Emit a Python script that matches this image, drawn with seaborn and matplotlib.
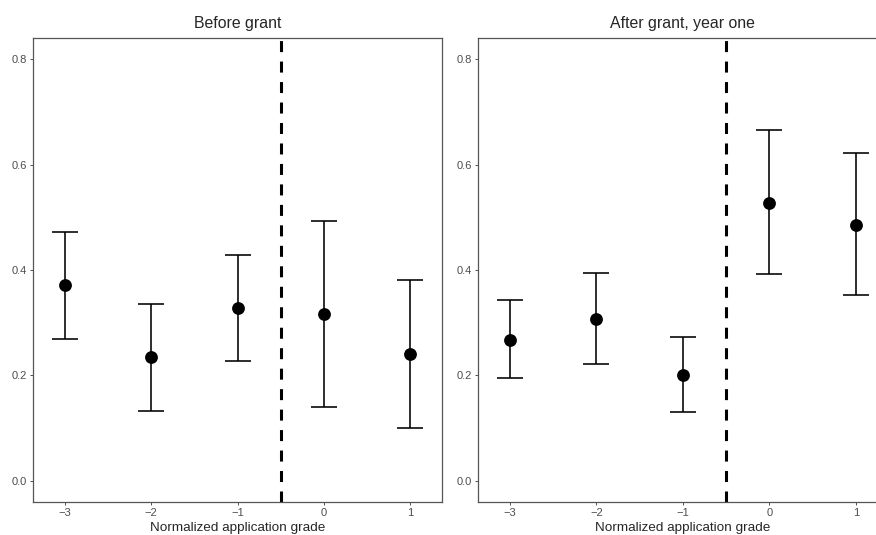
import pandas as pd
import seaborn as sns
import matplotlib.pyplot as plt
from matplotlib.ticker import FormatStrFormatter

# Estimated values
grades = [-3, -2, -1, 0, 1]
before_mean = [0.371, 0.235, 0.328, 0.316, 0.240]
before_low = [0.270, 0.133, 0.227, 0.141, 0.100]
before_high = [0.472, 0.336, 0.429, 0.492, 0.381]
after_mean = [0.268, 0.308, 0.200, 0.528, 0.486]
after_low = [0.195, 0.222, 0.130, 0.392, 0.352]
after_high = [0.343, 0.394, 0.272, 0.665, 0.621]
titles = ["Before grant", "After grant, year one"]
y_ticks = [0.0, 0.2, 0.4, 0.6, 0.8]
cutoff = -0.5

sns.set_style("white")
plt.rcParams['font.family'] = ['Liberation Sans', 'DejaVu Sans']

fig = plt.figure(figsize=(8.76, 5.35), dpi=100)
W, H = 876, 535
ax_left = fig.add_axes([33 / W, 33 / H, 409 / W, 464 / H])
ax_right = fig.add_axes([478.4 / W, 33 / H, 409 / W, 464 / H])

panels = [
    (ax_left, before_mean, before_low, before_high),
    (ax_right, after_mean, after_low, after_high),
]

for (ax, mean, low, high), title in zip(panels, titles):
    df = pd.DataFrame({"grade": grades, "mean": mean, "low": low, "high": high})
    ax.errorbar(df["grade"], df["mean"],
                yerr=[df["mean"] - df["low"], df["high"] - df["mean"]],
                fmt="none", ecolor="black", elinewidth=1.15, capsize=9.2,
                capthick=1.15, zorder=2)
    sns.scatterplot(data=df, x="grade", y="mean", ax=ax, color="black",
                    s=85, edgecolor="black", linewidth=0, zorder=3)
    ax.axvline(cutoff, color="black", linestyle=(0, (3.6, 3.1)), linewidth=2.2,
               zorder=1)
    ax.set_xlim(-3.365, 1.365)
    ax.set_ylim(-0.04, 0.84)
    ax.set_xticks(grades)
    ax.set_yticks(y_ticks)
    ax.yaxis.set_major_formatter(FormatStrFormatter("%.1f"))
    ax.set_title(title, fontsize=11.4, pad=7)
    ax.set_xlabel("Normalized application grade", fontsize=9.7, labelpad=3)
    ax.set_ylabel("")
    ax.tick_params(axis="both", labelsize=8, labelcolor="#4d4d4d",
                   length=2.5, width=0.6, color="#333333", pad=2, bottom=True,
                   left=True)
    for sp in ax.spines.values():
        sp.set_color("#555555")
        sp.set_linewidth(0.9)

fig.savefig("out.png", dpi=100)
